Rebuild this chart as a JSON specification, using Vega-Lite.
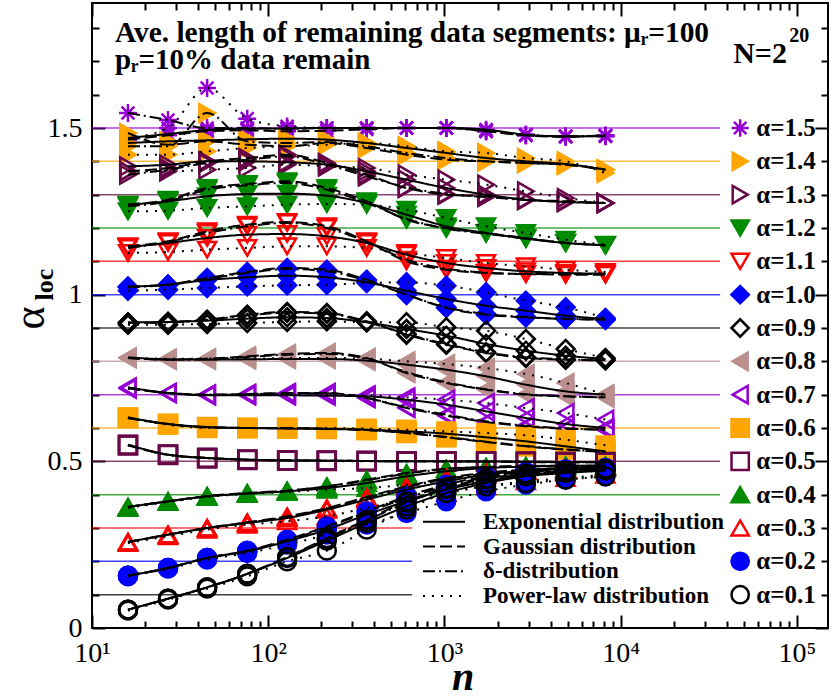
{
"$schema":"https://vega.github.io/schema/vega-lite/v6.json",
"width":736,"height":625,"autosize":"none",
"padding":{"left":92,"top":3,"right":2,"bottom":72},
"background":"white",
"config":{"view":{"stroke":"black","strokeWidth":2},"font":"Liberation Serif"},
"datasets":{
"alphas":[{"a":1.5,"label":"α=1.5"},{"a":1.4,"label":"α=1.4"},{"a":1.3,"label":"α=1.3"},{"a":1.2,"label":"α=1.2"},{"a":1.1,"label":"α=1.1"},{"a":1.0,"label":"α=1.0"},{"a":0.9,"label":"α=0.9"},{"a":0.8,"label":"α=0.8"},{"a":0.7,"label":"α=0.7"},{"a":0.6,"label":"α=0.6"},{"a":0.5,"label":"α=0.5"},{"a":0.4,"label":"α=0.4"},{"a":0.3,"label":"α=0.3"},{"a":0.2,"label":"α=0.2"},{"a":0.1,"label":"α=0.1"}],
"curves":[
{"a":1.5,"n":16,"E":1.47,"G":1.465,"D":1.545,"P":1.47},
{"a":1.5,"n":27,"E":1.482,"G":1.478,"D":1.524,"P":1.5},
{"a":1.5,"n":45,"E":1.494,"G":1.49,"D":1.5,"P":1.62},
{"a":1.5,"n":76,"E":1.498,"G":1.493,"D":1.5,"P":1.528},
{"a":1.5,"n":128,"E":1.499,"G":1.49,"D":1.497,"P":1.505},
{"a":1.5,"n":215,"E":1.5,"G":1.492,"D":1.5,"P":1.5},
{"a":1.5,"n":362,"E":1.5,"G":1.496,"D":1.5,"P":1.5},
{"a":1.5,"n":609,"E":1.5,"G":1.5,"D":1.5,"P":1.5},
{"a":1.5,"n":1024,"E":1.5,"G":1.5,"D":1.5,"P":1.5},
{"a":1.5,"n":1722,"E":1.495,"G":1.49,"D":1.492,"P":1.49},
{"a":1.5,"n":2896,"E":1.48,"G":1.478,"D":1.478,"P":1.48},
{"a":1.5,"n":4871,"E":1.475,"G":1.474,"D":1.475,"P":1.474},
{"a":1.5,"n":8192,"E":1.475,"G":1.478,"D":1.477,"P":1.476},
{"a":1.4,"n":16,"E":1.455,"G":1.485,"D":1.445,"P":1.42},
{"a":1.4,"n":27,"E":1.46,"G":1.45,"D":1.445,"P":1.42},
{"a":1.4,"n":45,"E":1.463,"G":1.46,"D":1.545,"P":1.43},
{"a":1.4,"n":76,"E":1.466,"G":1.45,"D":1.46,"P":1.44},
{"a":1.4,"n":128,"E":1.468,"G":1.445,"D":1.455,"P":1.445},
{"a":1.4,"n":215,"E":1.465,"G":1.455,"D":1.458,"P":1.45},
{"a":1.4,"n":362,"E":1.455,"G":1.44,"D":1.445,"P":1.455},
{"a":1.4,"n":609,"E":1.44,"G":1.42,"D":1.425,"P":1.445},
{"a":1.4,"n":1024,"E":1.425,"G":1.405,"D":1.41,"P":1.43},
{"a":1.4,"n":1722,"E":1.41,"G":1.4,"D":1.4,"P":1.425},
{"a":1.4,"n":2896,"E":1.4,"G":1.395,"D":1.395,"P":1.41},
{"a":1.4,"n":4871,"E":1.392,"G":1.39,"D":1.39,"P":1.4},
{"a":1.4,"n":8192,"E":1.375,"G":1.375,"D":1.375,"P":1.365},
{"a":1.3,"n":16,"E":1.385,"G":1.37,"D":1.36,"P":1.37},
{"a":1.3,"n":27,"E":1.39,"G":1.38,"D":1.375,"P":1.37},
{"a":1.3,"n":45,"E":1.4,"G":1.4,"D":1.395,"P":1.375},
{"a":1.3,"n":76,"E":1.4,"G":1.41,"D":1.405,"P":1.38},
{"a":1.3,"n":128,"E":1.397,"G":1.42,"D":1.415,"P":1.39},
{"a":1.3,"n":215,"E":1.39,"G":1.395,"D":1.39,"P":1.385},
{"a":1.3,"n":362,"E":1.37,"G":1.36,"D":1.355,"P":1.38},
{"a":1.3,"n":609,"E":1.345,"G":1.32,"D":1.322,"P":1.36},
{"a":1.3,"n":1024,"E":1.32,"G":1.3,"D":1.302,"P":1.345},
{"a":1.3,"n":1722,"E":1.3,"G":1.295,"D":1.293,"P":1.33},
{"a":1.3,"n":2896,"E":1.285,"G":1.285,"D":1.284,"P":1.31},
{"a":1.3,"n":4871,"E":1.278,"G":1.28,"D":1.279,"P":1.29},
{"a":1.3,"n":8192,"E":1.275,"G":1.275,"D":1.275,"P":1.275},
{"a":1.2,"n":16,"E":1.27,"G":1.27,"D":1.265,"P":1.25},
{"a":1.2,"n":27,"E":1.28,"G":1.285,"D":1.28,"P":1.252},
{"a":1.2,"n":45,"E":1.295,"G":1.32,"D":1.315,"P":1.26},
{"a":1.2,"n":76,"E":1.302,"G":1.332,"D":1.328,"P":1.265},
{"a":1.2,"n":128,"E":1.303,"G":1.34,"D":1.335,"P":1.27},
{"a":1.2,"n":215,"E":1.297,"G":1.32,"D":1.315,"P":1.272},
{"a":1.2,"n":362,"E":1.275,"G":1.28,"D":1.275,"P":1.27},
{"a":1.2,"n":609,"E":1.24,"G":1.225,"D":1.228,"P":1.255},
{"a":1.2,"n":1024,"E":1.205,"G":1.2,"D":1.198,"P":1.23},
{"a":1.2,"n":1722,"E":1.185,"G":1.185,"D":1.183,"P":1.205},
{"a":1.2,"n":2896,"E":1.168,"G":1.17,"D":1.168,"P":1.185},
{"a":1.2,"n":4871,"E":1.155,"G":1.155,"D":1.156,"P":1.165},
{"a":1.2,"n":8192,"E":1.148,"G":1.148,"D":1.148,"P":1.15},
{"a":1.1,"n":16,"E":1.143,"G":1.145,"D":1.14,"P":1.125},
{"a":1.1,"n":27,"E":1.155,"G":1.16,"D":1.158,"P":1.128},
{"a":1.1,"n":45,"E":1.17,"G":1.19,"D":1.185,"P":1.135},
{"a":1.1,"n":76,"E":1.18,"G":1.21,"D":1.205,"P":1.14},
{"a":1.1,"n":128,"E":1.182,"G":1.218,"D":1.215,"P":1.145},
{"a":1.1,"n":215,"E":1.175,"G":1.205,"D":1.2,"P":1.145},
{"a":1.1,"n":362,"E":1.155,"G":1.16,"D":1.158,"P":1.14},
{"a":1.1,"n":609,"E":1.12,"G":1.1,"D":1.105,"P":1.125},
{"a":1.1,"n":1024,"E":1.095,"G":1.075,"D":1.078,"P":1.11},
{"a":1.1,"n":1722,"E":1.08,"G":1.065,"D":1.066,"P":1.095},
{"a":1.1,"n":2896,"E":1.07,"G":1.062,"D":1.062,"P":1.085},
{"a":1.1,"n":4871,"E":1.065,"G":1.06,"D":1.062,"P":1.075},
{"a":1.1,"n":8192,"E":1.063,"G":1.06,"D":1.062,"P":1.068},
{"a":1.0,"n":16,"E":1.024,"G":1.024,"D":1.022,"P":1.012},
{"a":1.0,"n":27,"E":1.03,"G":1.03,"D":1.03,"P":1.015},
{"a":1.0,"n":45,"E":1.044,"G":1.05,"D":1.048,"P":1.02},
{"a":1.0,"n":76,"E":1.052,"G":1.068,"D":1.065,"P":1.025},
{"a":1.0,"n":128,"E":1.057,"G":1.08,"D":1.077,"P":1.028},
{"a":1.0,"n":215,"E":1.052,"G":1.075,"D":1.07,"P":1.03},
{"a":1.0,"n":362,"E":1.037,"G":1.045,"D":1.042,"P":1.035},
{"a":1.0,"n":609,"E":1.012,"G":1.0,"D":1.0,"P":1.037},
{"a":1.0,"n":1024,"E":0.987,"G":0.96,"D":0.962,"P":1.027},
{"a":1.0,"n":1722,"E":0.967,"G":0.94,"D":0.942,"P":1.007},
{"a":1.0,"n":2896,"E":0.952,"G":0.932,"D":0.933,"P":0.982},
{"a":1.0,"n":4871,"E":0.937,"G":0.927,"D":0.928,"P":0.962},
{"a":1.0,"n":8192,"E":0.927,"G":0.925,"D":0.925,"P":0.93},
{"a":0.9,"n":16,"E":0.917,"G":0.915,"D":0.915,"P":0.91},
{"a":0.9,"n":27,"E":0.918,"G":0.918,"D":0.917,"P":0.91},
{"a":0.9,"n":45,"E":0.922,"G":0.925,"D":0.924,"P":0.912},
{"a":0.9,"n":76,"E":0.928,"G":0.94,"D":0.938,"P":0.915},
{"a":0.9,"n":128,"E":0.932,"G":0.948,"D":0.946,"P":0.918},
{"a":0.9,"n":215,"E":0.93,"G":0.945,"D":0.943,"P":0.92},
{"a":0.9,"n":362,"E":0.917,"G":0.92,"D":0.918,"P":0.917},
{"a":0.9,"n":609,"E":0.897,"G":0.88,"D":0.882,"P":0.917},
{"a":0.9,"n":1024,"E":0.877,"G":0.85,"D":0.852,"P":0.902},
{"a":0.9,"n":1722,"E":0.852,"G":0.825,"D":0.827,"P":0.892},
{"a":0.9,"n":2896,"E":0.832,"G":0.81,"D":0.812,"P":0.867},
{"a":0.9,"n":4871,"E":0.817,"G":0.805,"D":0.806,"P":0.837},
{"a":0.9,"n":8192,"E":0.807,"G":0.803,"D":0.803,"P":0.81},
{"a":0.8,"n":16,"E":0.812,"G":0.81,"D":0.81,"P":0.81},
{"a":0.8,"n":27,"E":0.806,"G":0.805,"D":0.805,"P":0.808},
{"a":0.8,"n":45,"E":0.805,"G":0.808,"D":0.807,"P":0.808},
{"a":0.8,"n":76,"E":0.806,"G":0.815,"D":0.813,"P":0.808},
{"a":0.8,"n":128,"E":0.807,"G":0.822,"D":0.82,"P":0.81},
{"a":0.8,"n":215,"E":0.807,"G":0.825,"D":0.822,"P":0.81},
{"a":0.8,"n":362,"E":0.802,"G":0.81,"D":0.808,"P":0.808},
{"a":0.8,"n":609,"E":0.79,"G":0.765,"D":0.768,"P":0.8},
{"a":0.8,"n":1024,"E":0.775,"G":0.735,"D":0.737,"P":0.792},
{"a":0.8,"n":1722,"E":0.755,"G":0.715,"D":0.716,"P":0.78},
{"a":0.8,"n":2896,"E":0.73,"G":0.7,"D":0.701,"P":0.762},
{"a":0.8,"n":4871,"E":0.71,"G":0.695,"D":0.695,"P":0.735},
{"a":0.8,"n":8192,"E":0.7,"G":0.692,"D":0.692,"P":0.7},
{"a":0.7,"n":16,"E":0.722,"G":0.72,"D":0.72,"P":0.718},
{"a":0.7,"n":27,"E":0.705,"G":0.705,"D":0.705,"P":0.705},
{"a":0.7,"n":45,"E":0.698,"G":0.7,"D":0.7,"P":0.7},
{"a":0.7,"n":76,"E":0.698,"G":0.702,"D":0.701,"P":0.7},
{"a":0.7,"n":128,"E":0.698,"G":0.705,"D":0.704,"P":0.7},
{"a":0.7,"n":215,"E":0.697,"G":0.705,"D":0.704,"P":0.7},
{"a":0.7,"n":362,"E":0.695,"G":0.69,"D":0.69,"P":0.698},
{"a":0.7,"n":609,"E":0.685,"G":0.66,"D":0.662,"P":0.692},
{"a":0.7,"n":1024,"E":0.67,"G":0.637,"D":0.64,"P":0.685},
{"a":0.7,"n":1722,"E":0.65,"G":0.618,"D":0.62,"P":0.675},
{"a":0.7,"n":2896,"E":0.63,"G":0.605,"D":0.607,"P":0.66},
{"a":0.7,"n":4871,"E":0.612,"G":0.598,"D":0.599,"P":0.645},
{"a":0.7,"n":8192,"E":0.6,"G":0.595,"D":0.595,"P":0.625},
{"a":0.6,"n":16,"E":0.632,"G":0.63,"D":0.63,"P":0.63},
{"a":0.6,"n":27,"E":0.612,"G":0.612,"D":0.612,"P":0.61},
{"a":0.6,"n":45,"E":0.603,"G":0.602,"D":0.602,"P":0.6},
{"a":0.6,"n":76,"E":0.6,"G":0.6,"D":0.6,"P":0.6},
{"a":0.6,"n":128,"E":0.598,"G":0.6,"D":0.6,"P":0.6},
{"a":0.6,"n":215,"E":0.597,"G":0.598,"D":0.598,"P":0.6},
{"a":0.6,"n":362,"E":0.595,"G":0.594,"D":0.594,"P":0.598},
{"a":0.6,"n":609,"E":0.59,"G":0.585,"D":0.586,"P":0.595},
{"a":0.6,"n":1024,"E":0.583,"G":0.572,"D":0.573,"P":0.59},
{"a":0.6,"n":1722,"E":0.572,"G":0.558,"D":0.559,"P":0.585},
{"a":0.6,"n":2896,"E":0.56,"G":0.545,"D":0.546,"P":0.578},
{"a":0.6,"n":4871,"E":0.545,"G":0.535,"D":0.536,"P":0.565},
{"a":0.6,"n":8192,"E":0.53,"G":0.528,"D":0.529,"P":0.548},
{"a":0.5,"n":16,"E":0.55,"G":0.548,"D":0.549,"P":0.548},
{"a":0.5,"n":27,"E":0.52,"G":0.52,"D":0.52,"P":0.519},
{"a":0.5,"n":45,"E":0.51,"G":0.51,"D":0.51,"P":0.509},
{"a":0.5,"n":76,"E":0.505,"G":0.505,"D":0.505,"P":0.504},
{"a":0.5,"n":128,"E":0.503,"G":0.503,"D":0.503,"P":0.502},
{"a":0.5,"n":215,"E":0.502,"G":0.502,"D":0.502,"P":0.501},
{"a":0.5,"n":362,"E":0.501,"G":0.501,"D":0.501,"P":0.5},
{"a":0.5,"n":609,"E":0.5,"G":0.5,"D":0.5,"P":0.5},
{"a":0.5,"n":1024,"E":0.5,"G":0.5,"D":0.5,"P":0.499},
{"a":0.5,"n":1722,"E":0.5,"G":0.499,"D":0.499,"P":0.499},
{"a":0.5,"n":2896,"E":0.499,"G":0.498,"D":0.499,"P":0.498},
{"a":0.5,"n":4871,"E":0.498,"G":0.497,"D":0.498,"P":0.497},
{"a":0.5,"n":8192,"E":0.498,"G":0.497,"D":0.497,"P":0.496},
{"a":0.4,"n":16,"E":0.363,"G":0.363,"D":0.363,"P":0.36},
{"a":0.4,"n":27,"E":0.38,"G":0.38,"D":0.38,"P":0.378},
{"a":0.4,"n":45,"E":0.395,"G":0.396,"D":0.395,"P":0.393},
{"a":0.4,"n":76,"E":0.403,"G":0.405,"D":0.404,"P":0.402},
{"a":0.4,"n":128,"E":0.41,"G":0.412,"D":0.412,"P":0.408},
{"a":0.4,"n":215,"E":0.42,"G":0.425,"D":0.424,"P":0.415},
{"a":0.4,"n":362,"E":0.435,"G":0.445,"D":0.443,"P":0.42},
{"a":0.4,"n":609,"E":0.455,"G":0.465,"D":0.463,"P":0.43},
{"a":0.4,"n":1024,"E":0.47,"G":0.478,"D":0.477,"P":0.445},
{"a":0.4,"n":1722,"E":0.48,"G":0.483,"D":0.483,"P":0.46},
{"a":0.4,"n":2896,"E":0.484,"G":0.486,"D":0.485,"P":0.47},
{"a":0.4,"n":4871,"E":0.486,"G":0.487,"D":0.487,"P":0.478},
{"a":0.4,"n":8192,"E":0.487,"G":0.487,"D":0.487,"P":0.482},
{"a":0.3,"n":16,"E":0.258,"G":0.258,"D":0.258,"P":0.255},
{"a":0.3,"n":27,"E":0.28,"G":0.28,"D":0.28,"P":0.275},
{"a":0.3,"n":45,"E":0.3,"G":0.3,"D":0.3,"P":0.295},
{"a":0.3,"n":76,"E":0.315,"G":0.317,"D":0.316,"P":0.31},
{"a":0.3,"n":128,"E":0.33,"G":0.335,"D":0.333,"P":0.32},
{"a":0.3,"n":215,"E":0.355,"G":0.36,"D":0.358,"P":0.335},
{"a":0.3,"n":362,"E":0.385,"G":0.393,"D":0.39,"P":0.36},
{"a":0.3,"n":609,"E":0.415,"G":0.425,"D":0.422,"P":0.385},
{"a":0.3,"n":1024,"E":0.44,"G":0.45,"D":0.447,"P":0.405},
{"a":0.3,"n":1722,"E":0.46,"G":0.466,"D":0.464,"P":0.425},
{"a":0.3,"n":2896,"E":0.472,"G":0.475,"D":0.474,"P":0.44},
{"a":0.3,"n":4871,"E":0.478,"G":0.48,"D":0.479,"P":0.45},
{"a":0.3,"n":8192,"E":0.482,"G":0.483,"D":0.483,"P":0.46},
{"a":0.2,"n":16,"E":0.157,"G":0.157,"D":0.157,"P":0.155},
{"a":0.2,"n":27,"E":0.18,"G":0.18,"D":0.18,"P":0.178},
{"a":0.2,"n":45,"E":0.21,"G":0.21,"D":0.21,"P":0.205},
{"a":0.2,"n":76,"E":0.23,"G":0.232,"D":0.231,"P":0.225},
{"a":0.2,"n":128,"E":0.26,"G":0.265,"D":0.263,"P":0.25},
{"a":0.2,"n":215,"E":0.295,"G":0.305,"D":0.302,"P":0.28},
{"a":0.2,"n":362,"E":0.34,"G":0.35,"D":0.347,"P":0.31},
{"a":0.2,"n":609,"E":0.38,"G":0.395,"D":0.39,"P":0.345},
{"a":0.2,"n":1024,"E":0.415,"G":0.43,"D":0.425,"P":0.38},
{"a":0.2,"n":1722,"E":0.44,"G":0.455,"D":0.452,"P":0.41},
{"a":0.2,"n":2896,"E":0.458,"G":0.468,"D":0.466,"P":0.43},
{"a":0.2,"n":4871,"E":0.468,"G":0.476,"D":0.475,"P":0.445},
{"a":0.2,"n":8192,"E":0.474,"G":0.48,"D":0.48,"P":0.455},
{"a":0.1,"n":16,"E":0.055,"G":0.055,"D":0.055,"P":0.052},
{"a":0.1,"n":27,"E":0.088,"G":0.088,"D":0.088,"P":0.085},
{"a":0.1,"n":45,"E":0.122,"G":0.122,"D":0.122,"P":0.118},
{"a":0.1,"n":76,"E":0.162,"G":0.163,"D":0.162,"P":0.155},
{"a":0.1,"n":128,"E":0.21,"G":0.213,"D":0.212,"P":0.2},
{"a":0.1,"n":215,"E":0.262,"G":0.27,"D":0.267,"P":0.232},
{"a":0.1,"n":362,"E":0.315,"G":0.325,"D":0.322,"P":0.295},
{"a":0.1,"n":609,"E":0.365,"G":0.38,"D":0.376,"P":0.355},
{"a":0.1,"n":1024,"E":0.405,"G":0.42,"D":0.417,"P":0.405},
{"a":0.1,"n":1722,"E":0.435,"G":0.448,"D":0.446,"P":0.425},
{"a":0.1,"n":2896,"E":0.455,"G":0.463,"D":0.461,"P":0.435},
{"a":0.1,"n":4871,"E":0.465,"G":0.472,"D":0.471,"P":0.445},
{"a":0.1,"n":8192,"E":0.472,"G":0.478,"D":0.477,"P":0.455}
]},
"layer":[
{"data":{"name":"alphas"},"transform":[{"filter":"datum.a >= 0.35"}],
 "mark":{"type":"rule","strokeWidth":1.5,"opacity":0.75},
 "encoding":{
  "x":{"datum":10,"type":"quantitative","scale":{"type":"log","domain":[10,150000],"nice":false},
   "axis":{"orient":"bottom","values":[10,20,30,40,50,60,70,80,90,100,200,300,400,500,600,700,800,900,1000,2000,3000,4000,5000,6000,7000,8000,9000,10000,20000,30000,40000,50000,60000,70000,80000,90000,100000],
    "labelExpr":"abs(log(datum.value)/LN10-round(log(datum.value)/LN10))<0.001 ? '10'+['⁰','¹','²','³','⁴','⁵'][round(log(datum.value)/LN10)] : ''",
    "tickSize":{"condition":{"test":"abs(log(datum.value)/LN10-round(log(datum.value)/LN10))<0.001","value":-13},"value":-7},
    "tickWidth":2,"tickColor":"black","domain":false,"grid":false,"title":null,
    "labelFont":"Liberation Serif","labelFontSize":28,"labelColor":"black","labelPadding":24,"labelFlush":false,"labelOverlap":false,"labelBound":false}},
  "x2":{"datum":36650},
  "y":{"field":"a","type":"quantitative","scale":{"domain":[0,1.875],"nice":false,"zero":false},
   "axis":{"orient":"left","values":[0,0.1,0.2,0.3,0.4,0.5,0.6,0.7,0.8,0.9,1,1.1,1.2,1.3,1.4,1.5,1.6,1.7,1.8],
    "labelExpr":"abs(datum.value*2-round(datum.value*2))<0.001 ? format(datum.value,'~g') : ''",
    "tickSize":{"condition":{"test":"abs(datum.value*2-round(datum.value*2))<0.001","value":-13},"value":-7},
    "tickWidth":2,"tickColor":"black","domain":false,"grid":false,"title":null,
    "labelFont":"Liberation Serif","labelFontSize":28,"labelColor":"black","labelPadding":23,"labelFlush":false,"labelOverlap":false,"labelBound":false}},
  "color":{"field":"a","type":"nominal","scale":{"domain":[0.1,0.2,0.3,0.4,0.5,0.6,0.7,0.8,0.9,1,1.1,1.2,1.3,1.4,1.5],"range":["#000000","#0000ff","#ff0000","#008b00","#670748","#ffa500","#9400d3","#bc8f8f","#000000","#0000ff","#ff0000","#008b00","#670748","#ffa500","#9400d3"]},"legend":null}
 }},
{"data":{"name":"alphas"},"transform":[{"filter":"datum.a < 0.35"}],
 "mark":{"type":"rule","strokeWidth":1.5,"opacity":0.75},
 "encoding":{
  "x":{"datum":10,"type":"quantitative","scale":{"type":"log","domain":[10,150000],"nice":false},"axis":null},
  "x2":{"datum":655},
  "y":{"field":"a","type":"quantitative","scale":{"domain":[0,1.875],"nice":false,"zero":false},"axis":null},
  "color":{"field":"a","type":"nominal","scale":{"domain":[0.1,0.2,0.3,0.4,0.5,0.6,0.7,0.8,0.9,1,1.1,1.2,1.3,1.4,1.5]},"legend":null}
 }},
{"data":{"name":"curves"},"transform":[{"fold":["E","G","D","P"],"as":["d","v"]}],
 "mark":{"type":"point","opacity":1,"strokeWidth":2.5,"size":320},
 "encoding":{
  "x":{"field":"n","type":"quantitative","scale":{"type":"log","domain":[10,150000],"nice":false},
   "axis":{"orient":"top","values":[10,20,30,40,50,60,70,80,90,100,200,300,400,500,600,700,800,900,1000,2000,3000,4000,5000,6000,7000,8000,9000,10000,20000,30000,40000,50000,60000,70000,80000,90000,100000],
    "labels":false,"tickSize":{"condition":{"test":"abs(log(datum.value)/LN10-round(log(datum.value)/LN10))<0.001","value":-13},"value":-7},
    "tickWidth":2,"tickColor":"black","domain":false,"grid":false,"title":null}},
  "y":{"field":"v","type":"quantitative","scale":{"domain":[0,1.875],"nice":false,"zero":false},
   "axis":{"orient":"right","values":[0,0.1,0.2,0.3,0.4,0.5,0.6,0.7,0.8,0.9,1,1.1,1.2,1.3,1.4,1.5,1.6,1.7,1.8],
    "labels":false,"tickSize":{"condition":{"test":"abs(datum.value*2-round(datum.value*2))<0.001","value":-13},"value":-7},
    "tickWidth":2,"tickColor":"black","domain":false,"grid":false,"title":null}},
  "shape":{"field":"a","type":"nominal","scale":{"domain":[1.5,1.4,1.3,1.2,1.1,1,0.9,0.8,0.7,0.6,0.5,0.4,0.3,0.2,0.1],"range":["M-1,0L1,0M0,-1L0,1M-0.72,-0.72L0.72,0.72M-0.72,0.72L0.72,-0.72","triangle-right","triangle-right","triangle-down","triangle-down","diamond","diamond","triangle-left","triangle-left","square","square","triangle-up","triangle-up","circle","circle"]},"legend":null},
  "stroke":{"field":"a","type":"nominal","scale":{"domain":[1.5,1.4,1.3,1.2,1.1,1,0.9,0.8,0.7,0.6,0.5,0.4,0.3,0.2,0.1],"range":["#9400d3","#ffa500","#670748","#008b00","#ff0000","#0000ff","#000000","#bc8f8f","#9400d3","#ffa500","#670748","#008b00","#ff0000","#0000ff","#000000"]},"legend":null},
  "fill":{"field":"a","type":"nominal","scale":{"domain":[1.5,1.4,1.3,1.2,1.1,1,0.9,0.8,0.7,0.6,0.5,0.4,0.3,0.2,0.1],"range":["transparent","#ffa500","transparent","#008b00","transparent","#0000ff","transparent","#bc8f8f","transparent","#ffa500","transparent","#008b00","transparent","#0000ff","transparent"]},"legend":null}
 }},
{"data":{"name":"curves"},"transform":[{"fold":["E","G","D","P"],"as":["d","v"]}],
 "mark":{"type":"line","strokeWidth":2,"color":"black","interpolate":"monotone"},
 "encoding":{
  "x":{"field":"n","type":"quantitative","scale":{"type":"log","domain":[10,150000],"nice":false},"axis":null},
  "y":{"field":"v","type":"quantitative","scale":{"domain":[0,1.875],"nice":false,"zero":false},"axis":null},
  "detail":{"field":"a","type":"nominal"},
  "strokeDash":{"field":"d","type":"nominal","scale":{"domain":["E","G","D","P"],"range":[[1,0],[12,5],[12,4,2,4],[2,7]]},
   "legend":{"orient":"none","legendX":340.5,"legendY":507.2,"title":null,"symbolType":"M-3,0L3,0","symbolSize":196,"symbolStrokeWidth":2,"symbolStrokeColor":"black","symbolFillColor":"transparent",
    "labelExpr":"datum.value=='E' ? 'Exponential distribution' : datum.value=='G' ? 'Gaussian distribution' : datum.value=='D' ? 'δ-distribution' : 'Power-law distribution'",
    "labelFont":"Liberation Serif","labelFontSize":23,"labelFontWeight":"bold","labelColor":"black","rowPadding":0.8,"symbolOffset":0,"labelOffset":27.5,"padding":0,"labelLimit":400}}
 }},
{"data":{"name":"alphas"},
 "mark":{"type":"point","opacity":1,"strokeWidth":2.5,"size":300},
 "encoding":{
  "x":{"datum":47620,"type":"quantitative","scale":{"type":"log","domain":[10,150000],"nice":false},"axis":null},
  "y":{"field":"a","type":"quantitative","scale":{"domain":[0,1.875],"nice":false,"zero":false},"axis":null},
  "shape":{"field":"a","type":"nominal","scale":{"domain":[1.5,1.4,1.3,1.2,1.1,1,0.9,0.8,0.7,0.6,0.5,0.4,0.3,0.2,0.1]},"legend":null},
  "stroke":{"field":"a","type":"nominal","scale":{"domain":[1.5,1.4,1.3,1.2,1.1,1,0.9,0.8,0.7,0.6,0.5,0.4,0.3,0.2,0.1]},"legend":null},
  "fill":{"field":"a","type":"nominal","scale":{"domain":[1.5,1.4,1.3,1.2,1.1,1,0.9,0.8,0.7,0.6,0.5,0.4,0.3,0.2,0.1]},"legend":null}
 }},
{"data":{"name":"alphas"},
 "mark":{"type":"text","align":"left","baseline":"middle","dx":16,"font":"Liberation Serif","fontSize":25,"fontWeight":"bold","color":"black"},
 "encoding":{
  "x":{"datum":47620,"type":"quantitative","scale":{"type":"log","domain":[10,150000],"nice":false},"axis":null},
  "y":{"field":"a","type":"quantitative","scale":{"domain":[0,1.875],"nice":false,"zero":false},"axis":null},
  "text":{"field":"label","type":"nominal"}
 }},
{"data":{"values":[{}]},"mark":{"type":"text","text":"Ave. length of remaining data segments: μᵣ=100","align":"left","baseline":"alphabetic","font":"Liberation Serif","fontSize":29.4,"fontWeight":"bold","color":"black"},
 "encoding":{"x":{"datum":13.5,"type":"quantitative","scale":{"type":"log","domain":[10,150000],"nice":false},"axis":null},"y":{"datum":1.758,"type":"quantitative","scale":{"domain":[0,1.875],"nice":false,"zero":false},"axis":null}}},
{"data":{"values":[{}]},"mark":{"type":"text","text":"pᵣ=10% data remain","align":"left","baseline":"alphabetic","font":"Liberation Serif","fontSize":29,"fontWeight":"bold","color":"black"},
 "encoding":{"x":{"datum":13.5,"type":"quantitative","scale":{"type":"log","domain":[10,150000],"nice":false},"axis":null},"y":{"datum":1.677,"type":"quantitative","scale":{"domain":[0,1.875],"nice":false,"zero":false},"axis":null}}},
{"data":{"values":[{}]},"mark":{"type":"text","text":"N=2","align":"left","baseline":"alphabetic","font":"Liberation Serif","fontSize":30,"fontWeight":"bold","color":"black"},
 "encoding":{"x":{"datum":43450,"type":"quantitative","scale":{"type":"log","domain":[10,150000],"nice":false},"axis":null},"y":{"datum":1.695,"type":"quantitative","scale":{"domain":[0,1.875],"nice":false,"zero":false},"axis":null}}},
{"data":{"values":[{}]},"mark":{"type":"text","text":"20","align":"left","baseline":"alphabetic","font":"Liberation Serif","fontSize":20,"fontWeight":"bold","color":"black"},
 "encoding":{"x":{"datum":90300,"type":"quantitative","scale":{"type":"log","domain":[10,150000],"nice":false},"axis":null},"y":{"datum":1.758,"type":"quantitative","scale":{"domain":[0,1.875],"nice":false,"zero":false},"axis":null}}},
{"data":{"values":[{}]},"mark":{"type":"text","text":"α","align":"center","baseline":"middle","angle":270,"font":"Liberation Serif","fontSize":44,"color":"black"},
 "encoding":{"x":{"datum":4.5,"type":"quantitative","scale":{"type":"log","domain":[10,150000],"nice":false},"axis":null},"y":{"datum":0.93,"type":"quantitative","scale":{"domain":[0,1.875],"nice":false,"zero":false},"axis":null}}},
{"data":{"values":[{}]},"mark":{"type":"text","text":"loc","align":"center","baseline":"middle","angle":270,"font":"Liberation Serif","fontSize":26,"fontWeight":"bold","color":"black"},
 "encoding":{"x":{"datum":5.4,"type":"quantitative","scale":{"type":"log","domain":[10,150000],"nice":false},"axis":null},"y":{"datum":1.03,"type":"quantitative","scale":{"domain":[0,1.875],"nice":false,"zero":false},"axis":null}}},
{"data":{"values":[{}]},"mark":{"type":"text","text":"n","align":"center","baseline":"alphabetic","font":"Liberation Serif","fontSize":40,"fontWeight":"bold","fontStyle":"italic","color":"black"},
 "encoding":{"x":{"datum":1275,"type":"quantitative","scale":{"type":"log","domain":[10,150000],"nice":false},"axis":null},"y":{"datum":-0.186,"type":"quantitative","scale":{"domain":[0,1.875],"nice":false,"zero":false},"axis":null}}}
],
"resolve":{"axis":{"x":"independent","y":"independent"}}
}
